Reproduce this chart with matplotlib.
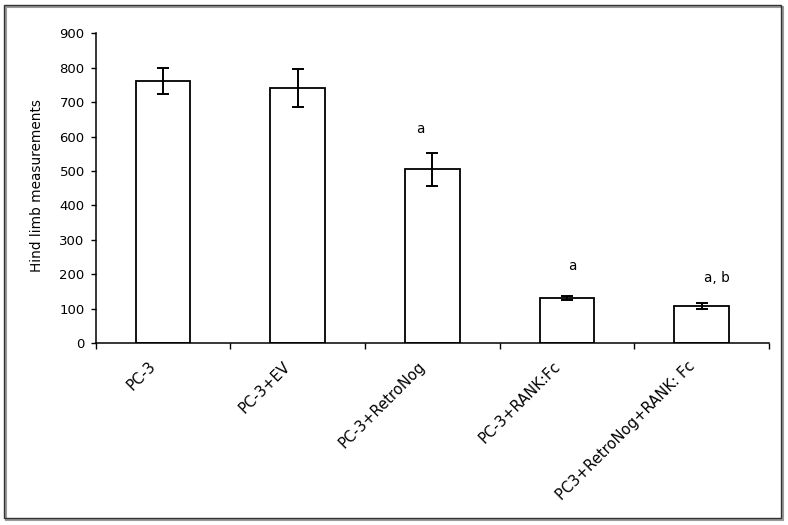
import matplotlib
matplotlib.use("Agg")
import matplotlib.pyplot as plt
import matplotlib.transforms as mtransforms
from matplotlib.patches import Rectangle

categories = ["PC-3", "PC-3+EV", "PC-3+RetroNog", "PC-3+RANK:Fc", "PC3+RetroNog+RANK: Fc"]
means = [762, 741, 505, 131, 108]
errors = [38, 56, 48, 7, 9]
sig_labels = ["", "", "a", "a", "a, b"]
sig_label_x = [0, 1, 1.91, 3.04, 4.11]
sig_label_y = [0, 0, 610, 212, 177]
yticks = [0, 100, 200, 300, 400, 500, 600, 700, 800, 900]

W, H = 788, 525
fig = plt.figure(figsize=(W / 100, H / 100), dpi=100)
fig.patch.set_facecolor("white")

# outer frame with shadow (drawn beneath the axes, unfilled)
x0, y0, x1, y1 = 4, 5, 781, 518
fig.patches.append(Rectangle(((x0 + 2) / W, 1 - (y1 + 2) / H), (x1 - x0) / W, (y1 - y0) / H,
                             transform=fig.transFigure, fill=False, edgecolor="#9a9a9a",
                             linewidth=1.5, zorder=-2))
fig.patches.append(Rectangle((x0 / W, 1 - y1 / H), (x1 - x0) / W, (y1 - y0) / H,
                             transform=fig.transFigure, fill=False, edgecolor="#333333",
                             linewidth=1.0, zorder=-1))

left, right, bottom, top = 95.7, 769, 343, 33.3
ax = fig.add_axes([left / W, 1 - bottom / H, (right - left) / W, (bottom - top) / H])
ax.patch.set_alpha(0)

font = "DejaVu Sans"
x = list(range(len(categories)))
ax.bar(x, means, width=0.405, color="white", edgecolor="black", linewidth=1.3, zorder=2)
ax.errorbar(x, means, yerr=errors, fmt="none", ecolor="black", elinewidth=1.4,
            capsize=4.2, capthick=1.4, zorder=3)

for xi, yi, s in zip(sig_label_x, sig_label_y, sig_labels):
    if s:
        ax.text(xi, yi, s, ha="center", va="baseline", fontsize=9.8, family=font)

ax.set_xlim(-0.5, 4.5)
ax.set_ylim(0, 900)
ax.set_yticks(yticks)
ax.set_yticklabels([str(v) for v in yticks], fontsize=9.5, family=font)
ax.tick_params(axis="y", direction="out", length=3.6, width=1, pad=4.3)

ax.set_xticks(x)
ax.set_xticklabels(categories, fontsize=10.6, family=font, rotation=45, ha="right", va="top")
ax.tick_params(axis="x", which="major", length=0, pad=11.5)
ax.set_xticks([i - 0.5 for i in range(len(categories) + 1)], minor=True)
ax.tick_params(axis="x", which="minor", direction="out", length=4, width=1)
offset = mtransforms.ScaledTranslation(-3 / 72, 0, fig.dpi_scale_trans)
for lbl in ax.get_xticklabels():
    lbl.set_transform(lbl.get_transform() + offset)

for s in ["top", "right"]:
    ax.spines[s].set_visible(False)
for s in ["left", "bottom"]:
    ax.spines[s].set_linewidth(1.1)

fig.text(37 / W, 1 - 186 / H, "Hind limb measurements", rotation=90, ha="center", va="center",
         fontsize=9.8, family=font)

fig.savefig("out.png", dpi=100, facecolor="white")
